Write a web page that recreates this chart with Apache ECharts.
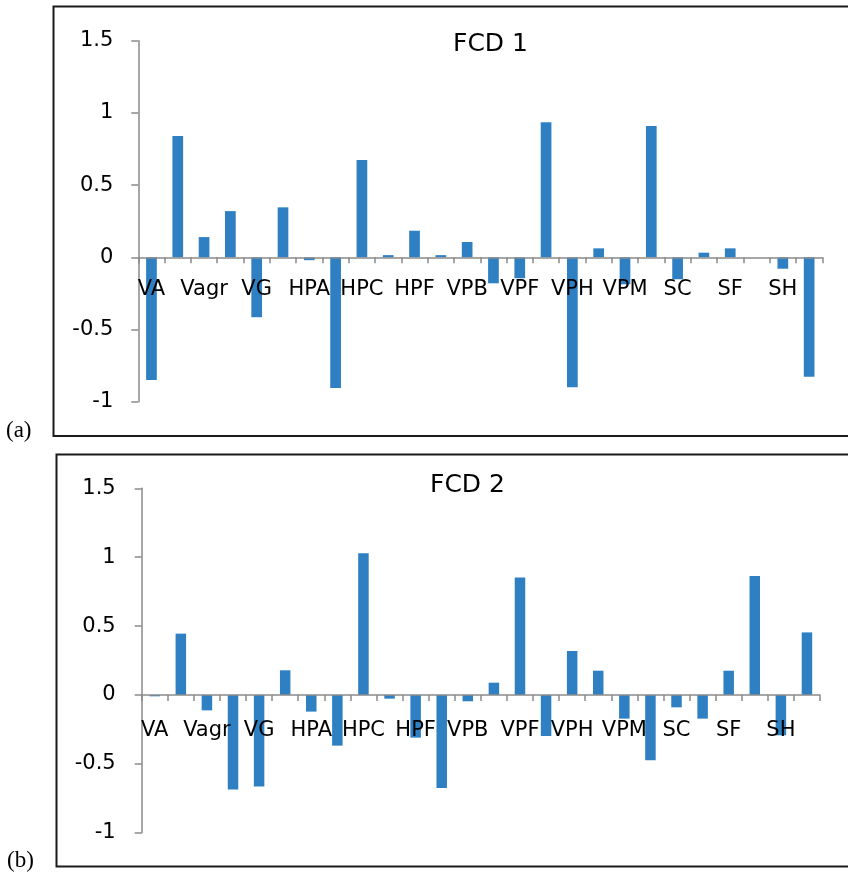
<!DOCTYPE html>
<html><head><meta charset="utf-8">
<script src="https://cdn.jsdelivr.net/npm/echarts@6/dist/echarts.min.js"></script>
<style>html,body{margin:0;padding:0;background:#fff}#c{width:848px;height:875px}</style>
</head><body><div id="c"></div>
<script>
const categories = ["VA","VAc","Vagr","VE","VG","VH","HPA","HPB","HPC","HPE","HPF","VPA","VPB","VPC","VPF","VPG","VPH","VPL","VPM","SA","SC","SE","SF","SG","SH","SL"];
const fcd1 = [-0.85, 0.84, 0.14, 0.32, -0.415, 0.346, -0.02, -0.905, 0.674, 0.015, 0.184, 0.015, 0.106, -0.18, -0.145, 0.935, -0.90, 0.062, -0.187, 0.909, -0.152, 0.032, 0.062, 0, -0.079, -0.827];
const fcd2 = [-0.01, 0.445, -0.112, -0.687, -0.665, 0.179, -0.121, -0.368, 1.028, -0.027, -0.31, -0.675, -0.046, 0.089, 0.853, -0.298, 0.319, 0.176, -0.172, -0.474, -0.09, -0.172, 0.176, 0.863, -0.293, 0.454];
const titles = ["FCD 1", "FCD 2"];
const panelLabels = ["(a)", "(b)"];
const yMin = -1, yMax = 1.5, yStep = 0.5;

const axisGray = '#8a8a8a';
const barColor = '#2E80C3';
const font = 'DejaVu Sans';

const grids = [
  { left: 138.3, top: 40.7, width: 684, height: 361 },
  { left: 141.7, top: 488.3, width: 678.3, height: 344.4 }
];

function xAxis(gi, margin) {
  // shift the axis up from the grid bottom to where the value axis is zero
  const shift = grids[gi].height * (0 - yMin) / (yMax - yMin);
  return {
    gridIndex: gi, type: 'category', data: categories, position: 'bottom', z: 3,
    offset: -shift,
    axisLine: { show: true, onZero: false, lineStyle: { color: axisGray, width: 1.5 } },
    axisTick: { show: true, interval: 0, length: 6, lineStyle: { color: axisGray, width: 1.5 } },
    axisLabel: { interval: 1, margin: margin, fontFamily: font, fontSize: 21, color: '#000' }
  };
}
function yAxis(gi, margin) {
  return {
    gridIndex: gi, type: 'value', min: yMin, max: yMax, interval: yStep,
    splitLine: { show: false },
    axisLine: { show: true, lineStyle: { color: axisGray, width: 1.5 } },
    axisTick: { show: true, length: 7, lineStyle: { color: axisGray, width: 1.5 } },
    axisLabel: { margin: margin, fontFamily: font, fontSize: 21, color: '#000' }
  };
}

const chart = echarts.init(document.getElementById('c'));
chart.setOption({
  animation: false,
  backgroundColor: '#fff',
  title: [
    { text: titles[0], left: 453, top: 32, padding: 0, textStyle: { fontFamily: font, fontSize: 25, fontWeight: 'normal', color: '#000' } },
    { text: titles[1], left: 430, top: 473, padding: 0, textStyle: { fontFamily: font, fontSize: 25, fontWeight: 'normal', color: '#000' } }
  ],
  grid: grids,
  xAxis: [xAxis(0, 22), xAxis(1, 25)],
  yAxis: [yAxis(0, 25), yAxis(1, 26)],
  series: [
    { type: 'bar', xAxisIndex: 0, yAxisIndex: 0, data: fcd1, barWidth: 10.7, itemStyle: { color: barColor } },
    { type: 'bar', xAxisIndex: 1, yAxisIndex: 1, data: fcd2, barWidth: 10.5, itemStyle: { color: barColor } }
  ],
  graphic: [
    { type: 'rect', shape: { x: 53.5, y: 6.5, width: 820, height: 429.5 }, style: { fill: 'none', stroke: '#1a1a1a', lineWidth: 2 }, z: -1 },
    { type: 'rect', shape: { x: 56.5, y: 454.5, width: 820, height: 412 }, style: { fill: 'none', stroke: '#1a1a1a', lineWidth: 2 }, z: -1 },
    { type: 'text', x: 6, y: 431, style: { text: panelLabels[0], font: '23px "Liberation Serif"', fill: '#000', textVerticalAlign: 'middle' } },
    { type: 'text', x: 7, y: 861, style: { text: panelLabels[1], font: '23px "Liberation Serif"', fill: '#000', textVerticalAlign: 'middle' } }
  ]
});
</script></body></html>
